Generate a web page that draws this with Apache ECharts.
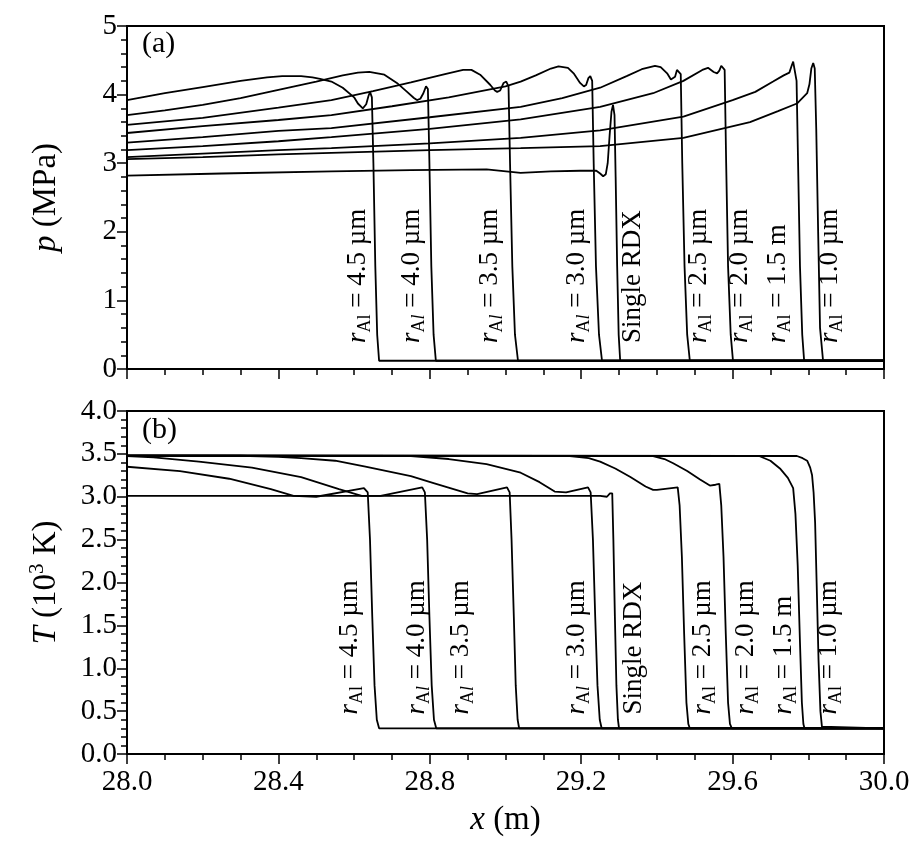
<!DOCTYPE html>
<html>
<head>
<meta charset="utf-8">
<script src="https://cdn.jsdelivr.net/npm/echarts@6/dist/echarts.min.js"></script>
<style>html,body{margin:0;padding:0;background:#fff;}#chart{width:921px;height:842px;}</style>
</head>
<body>
<div id="chart"></div>
<script>
// ---------- data ----------
const xTicks = [28.0, 28.4, 28.8, 29.2, 29.6, 30.0];
const seriesNames = ['4.5', '4.0', '3.5', '3.0', 'Single RDX', '2.5', '2.0', '1.5', '1.0'];

// (a) pressure p (MPa) vs x (m)
const p_45 = [[28.00,3.92],[28.10,4.02],[28.20,4.11],[28.30,4.20],[28.37,4.25],[28.41,4.27],[28.46,4.27],[28.49,4.25],[28.51,4.23],[28.54,4.19],[28.57,4.10],[28.60,3.96],[28.61,3.87],[28.623,3.80],[28.632,3.86],[28.638,3.98],[28.642,4.04],[28.647,3.96],[28.651,3.0],[28.656,1.5],[28.661,0.5],[28.666,0.12],[30.0,0.12]];
const p_40 = [[28.00,3.70],[28.10,3.77],[28.20,3.85],[28.30,3.95],[28.40,4.07],[28.50,4.19],[28.57,4.28],[28.61,4.32],[28.64,4.33],[28.68,4.29],[28.713,4.17],[28.74,4.04],[28.758,3.95],[28.766,3.92],[28.775,3.94],[28.783,4.02],[28.790,4.12],[28.795,4.08],[28.799,3.0],[28.804,1.5],[28.810,0.5],[28.816,0.12],[30.0,0.12]];
const p_35 = [[28.00,3.56],[28.20,3.66],[28.40,3.81],[28.54,3.92],[28.65,4.05],[28.75,4.18],[28.84,4.30],[28.888,4.36],[28.91,4.36],[28.933,4.29],[28.96,4.14],[28.972,4.06],[28.978,4.04],[28.986,4.06],[28.995,4.17],[29.002,4.19],[29.008,4.12],[29.012,3.0],[29.018,1.5],[29.025,0.5],[29.033,0.12],[30.0,0.12]];
const p_30 = [[28.00,3.44],[28.20,3.54],[28.40,3.63],[28.54,3.70],[28.70,3.83],[28.85,3.96],[29.00,4.12],[29.04,4.19],[29.08,4.28],[29.12,4.38],[29.14,4.41],[29.165,4.39],[29.18,4.31],[29.197,4.17],[29.207,4.12],[29.213,4.14],[29.219,4.24],[29.224,4.27],[29.229,4.20],[29.233,3.0],[29.239,1.5],[29.247,0.5],[29.255,0.12],[30.0,0.12]];
const p_single = [[28.00,2.82],[28.25,2.85],[28.54,2.88],[28.75,2.90],[28.95,2.91],[29.04,2.86],[29.12,2.88],[29.197,2.89],[29.24,2.89],[29.25,2.85],[29.258,2.81],[29.265,2.84],[29.270,3.00],[29.275,3.40],[29.280,3.75],[29.284,3.85],[29.288,3.70],[29.291,2.8],[29.295,1.5],[29.299,0.5],[29.303,0.12],[30.0,0.12]];
const p_25 = [[28.00,3.30],[28.20,3.38],[28.40,3.47],[28.54,3.51],[28.80,3.67],[29.04,3.82],[29.15,3.95],[29.25,4.10],[29.32,4.27],[29.36,4.37],[29.395,4.42],[29.41,4.40],[29.427,4.31],[29.437,4.22],[29.442,4.21],[29.448,4.26],[29.453,4.36],[29.458,4.37],[29.463,4.30],[29.467,3.0],[29.473,1.5],[29.480,0.5],[29.487,0.12],[30.0,0.12]];
const p_20 = [[28.00,3.19],[28.20,3.25],[28.40,3.32],[28.54,3.38],[28.80,3.50],[29.04,3.64],[29.25,3.82],[29.39,4.02],[29.47,4.20],[29.52,4.36],[29.535,4.39],[29.55,4.33],[29.559,4.31],[29.565,4.35],[29.570,4.42],[29.575,4.43],[29.579,4.36],[29.583,3.0],[29.588,1.5],[29.595,0.5],[29.601,0.12],[30.0,0.12]];
const p_15 = [[28.00,3.09],[28.20,3.14],[28.40,3.19],[28.54,3.22],[28.80,3.29],[29.04,3.37],[29.25,3.48],[29.47,3.68],[29.60,3.92],[29.66,4.04],[29.707,4.19],[29.735,4.28],[29.750,4.32],[29.756,4.42],[29.760,4.48],[29.765,4.47],[29.769,4.2],[29.773,3.0],[29.778,1.5],[29.784,0.5],[29.789,0.12],[30.0,0.12]];
const p_10 = [[28.00,3.06],[28.20,3.09],[28.40,3.13],[28.54,3.15],[28.80,3.19],[29.04,3.22],[29.25,3.25],[29.47,3.37],[29.646,3.60],[29.72,3.76],[29.77,3.87],[29.797,4.02],[29.803,4.15],[29.808,4.38],[29.813,4.46],[29.817,4.38],[29.821,3.5],[29.826,2.0],[29.831,0.6],[29.839,0.12],[30.0,0.12]];

// (b) temperature T (10^3 K) vs x (m)
const T_45 = [[28.00,3.35],[28.14,3.30],[28.27,3.21],[28.38,3.09],[28.44,3.01],[28.50,3.00],[28.626,3.10],[28.636,3.05],[28.642,2.5],[28.648,1.6],[28.654,0.8],[28.660,0.4],[28.666,0.30],[30.0,0.30]];
const T_40 = [[28.00,3.475],[28.07,3.46],[28.19,3.41],[28.33,3.34],[28.46,3.23],[28.56,3.09],[28.62,3.01],[28.67,3.01],[28.78,3.11],[28.787,3.05],[28.793,2.5],[28.799,1.6],[28.805,0.8],[28.811,0.4],[28.817,0.30],[30.0,0.30]];
const T_35 = [[28.00,3.48],[28.30,3.478],[28.40,3.465],[28.46,3.45],[28.55,3.42],[28.63,3.35],[28.75,3.24],[28.81,3.16],[28.90,3.04],[28.925,3.03],[29.004,3.11],[29.011,3.05],[29.016,2.5],[29.022,1.6],[29.027,0.8],[29.032,0.4],[29.036,0.30],[30.0,0.30]];
const T_30 = [[28.00,3.48],[28.75,3.475],[28.85,3.44],[28.95,3.38],[29.04,3.28],[29.09,3.17],[29.13,3.06],[29.16,3.05],[29.218,3.11],[29.225,3.05],[29.231,2.5],[29.237,1.6],[29.243,0.8],[29.249,0.4],[29.254,0.30],[30.0,0.30]];
const T_single = [[28.00,3.01],[28.60,3.01],[29.00,3.01],[29.25,3.01],[29.268,3.00],[29.276,3.04],[29.282,3.04],[29.285,2.5],[29.289,1.6],[29.293,0.8],[29.297,0.4],[29.300,0.30],[30.0,0.30]];
const T_25 = [[28.00,3.48],[29.17,3.475],[29.22,3.45],[29.25,3.41],[29.29,3.33],[29.33,3.23],[29.37,3.12],[29.39,3.08],[29.40,3.08],[29.455,3.11],[29.460,2.9],[29.466,2.3],[29.472,1.4],[29.478,0.6],[29.483,0.35],[29.487,0.30],[30.0,0.30]];
const T_20 = [[28.00,3.48],[29.39,3.475],[29.42,3.44],[29.443,3.39],[29.48,3.30],[29.514,3.20],[29.54,3.13],[29.555,3.14],[29.565,3.15],[29.570,2.9],[29.576,2.3],[29.582,1.4],[29.588,0.6],[29.593,0.35],[29.598,0.30],[30.0,0.30]];
const T_15 = [[28.00,3.48],[29.67,3.475],[29.70,3.42],[29.725,3.33],[29.746,3.22],[29.760,3.10],[29.766,2.8],[29.772,2.2],[29.778,1.3],[29.783,0.6],[29.787,0.35],[29.790,0.30],[30.0,0.30]];
const T_10 = [[28.00,3.48],[29.77,3.475],[29.785,3.45],[29.797,3.42],[29.805,3.34],[29.810,3.25],[29.814,3.05],[29.818,2.7],[29.822,2.0],[29.827,1.1],[29.832,0.5],[29.836,0.32],[29.841,0.30],[30.0,0.30]];

// curve annotations (rich text), anchored at the start of the vertical text
const labelTexts = [
  '{i|r}{s|Al}{n| = 4.5 µm}',
  '{i|r}{s|A}{si|l}{n| = 4.0 µm}',
  '{i|r}{s|A}{si|l}{n| = 3.5 µm}',
  '{i|r}{s|A}{si|l}{n| = 3.0 µm}',
  '{n|Single RDX}',
  '{i|r}{s|Al}{n| = 2.5 µm}',
  '{i|r}{s|Al}{n| = 2.0 µm}',
  '{i|r}{s|Al}{n| = 1.5 m}',
  '{i|r}{s|Al}{n| = 1.0 µm}'
];
const pLabelX = [28.610, 28.753, 28.959, 29.189, 29.337, 29.512, 29.620, 29.720, 29.857];
const pLabelY = [0.38, 0.38, 0.38, 0.38, 0.38, 0.38, 0.38, 0.38, 0.38];
const TLabelX = [28.589, 28.766, 28.882, 29.189, 29.340, 29.522, 29.635, 29.736, 29.855];
const TLabelY = [0.46, 0.46, 0.46, 0.46, 0.46, 0.46, 0.46, 0.46, 0.46];

// ---------- chart ----------
const FONT = "'Liberation Serif', 'Times New Roman', serif";
const pCurves = [p_45, p_40, p_35, p_30, p_single, p_25, p_20, p_15, p_10];
const TCurves = [T_45, T_40, T_35, T_30, T_single, T_25, T_20, T_15, T_10];

const chart = echarts.init(document.getElementById('chart'), null, {renderer: 'canvas'});

const noBorder = {textBorderWidth: 0, textBorderColor: 'transparent', textShadowBlur: 0};
const labelRich = {
  n: Object.assign({fontFamily: FONT, fontSize: 27, lineHeight: 32, verticalAlign: 'middle', color: '#000'}, noBorder),
  i: Object.assign({fontFamily: FONT, fontSize: 27, fontStyle: 'italic', lineHeight: 32, verticalAlign: 'middle', color: '#000'}, noBorder),
  s: Object.assign({fontFamily: FONT, fontSize: 18, lineHeight: 13, verticalAlign: 'bottom', color: '#000'}, noBorder),
  si: Object.assign({fontFamily: FONT, fontSize: 18, fontStyle: 'italic', lineHeight: 13, verticalAlign: 'bottom', color: '#000'}, noBorder)
};

function xAxisCfg(gridIndex, showLabels) {
  return {
    type: 'value', gridIndex: gridIndex, min: 28, max: 30, interval: 0.4,
    axisLine: {show: true, onZero: false, lineStyle: {color: '#000', width: 2}},
    axisTick: {show: true, inside: false, length: 10, lineStyle: {color: '#000', width: 1.5}},
    minorTick: {show: true, splitNumber: 4, length: 6, lineStyle: {color: '#000', width: 1.5}},
    splitLine: {show: false},
    axisLabel: {show: showLabels, margin: 14, fontFamily: FONT, fontSize: 29, color: '#000',
      formatter: v => v.toFixed(1)},
    name: showLabels ? '{i|x} (m)' : '',
    nameLocation: 'middle', nameGap: 50,
    nameTextStyle: {fontFamily: FONT, fontSize: 33, color: '#000',
      rich: {i: {fontFamily: FONT, fontSize: 33, fontStyle: 'italic', color: '#000'}}}
  };
}

function yAxisCfg(gridIndex, max, interval, digits, name, rich) {
  return {
    type: 'value', gridIndex: gridIndex, min: 0, max: max, interval: interval,
    axisLine: {show: true, onZero: false, lineStyle: {color: '#000', width: 2}},
    axisTick: {show: true, inside: false, length: 10, lineStyle: {color: '#000', width: 1.5}},
    minorTick: {show: true, splitNumber: 5, length: 6, lineStyle: {color: '#000', width: 1.5}},
    splitLine: {show: false},
    axisLabel: {margin: 10, fontFamily: FONT, fontSize: 29, color: '#000',
      formatter: v => v.toFixed(digits)},
    name: name, nameLocation: 'middle', nameGap: 62, nameRotate: 90,
    nameTextStyle: {fontFamily: FONT, fontSize: 33, color: '#000', lineHeight: 38, rich: rich}
  };
}

const series = [];
pCurves.forEach((d, k) => series.push({
  name: 'p ' + seriesNames[k], type: 'line', xAxisIndex: 0, yAxisIndex: 0, data: d,
  showSymbol: false, symbol: 'none', smooth: false,
  lineStyle: {color: '#000', width: 1.8}, z: 3
}));
TCurves.forEach((d, k) => series.push({
  name: 'T ' + seriesNames[k], type: 'line', xAxisIndex: 1, yAxisIndex: 1, data: d,
  showSymbol: false, symbol: 'none', smooth: false,
  lineStyle: {color: '#000', width: 1.8}, z: 3
}));

function labelSeries(xs, ys, xi, yi) {
  return {
    type: 'scatter', xAxisIndex: xi, yAxisIndex: yi, symbolSize: 1,
    itemStyle: {color: 'rgba(0,0,0,0)'}, silent: true, z: 5,
    data: xs.map((x, k) => [x, ys[k]]),
    label: Object.assign({
      show: true, position: 'inside', rotate: 90, align: 'left', verticalAlign: 'middle',
      color: '#000', opacity: 1,
      formatter: p => labelTexts[p.dataIndex], rich: labelRich
    }, noBorder)
  };
}
series.push(labelSeries(pLabelX, pLabelY, 0, 0));
series.push(labelSeries(TLabelX, TLabelY, 1, 1));

const option = {
  animation: false,
  backgroundColor: '#fff',
  grid: [
    {left: 127, right: 37, top: 26, height: 343, show: true, borderColor: '#000', borderWidth: 2, backgroundColor: 'transparent'},
    {left: 127, right: 37, top: 411, height: 343, show: true, borderColor: '#000', borderWidth: 2, backgroundColor: 'transparent'}
  ],
  xAxis: [xAxisCfg(0, false), xAxisCfg(1, true)],
  yAxis: [
    yAxisCfg(0, 5, 1, 0, '{i|p} (MPa)', {i: {fontFamily: FONT, fontSize: 33, fontStyle: 'italic', color: '#000'}}),
    yAxisCfg(1, 4, 0.5, 1, '{i|T} (10{sup|3} K)', {
      i: {fontFamily: FONT, fontSize: 33, fontStyle: 'italic', color: '#000'},
      sup: {fontFamily: FONT, fontSize: 21, lineHeight: 21, verticalAlign: 'top', color: '#000'}
    })
  ],
  graphic: [
    {type: 'text', left: 142, top: 29, style: {text: '(a)', font: "30px 'Liberation Serif', serif", fill: '#000'}},
    {type: 'text', left: 142, top: 415, style: {text: '(b)', font: "30px 'Liberation Serif', serif", fill: '#000'}}
  ],
  series: series
};
chart.setOption(option);
</script>
</body>
</html>
